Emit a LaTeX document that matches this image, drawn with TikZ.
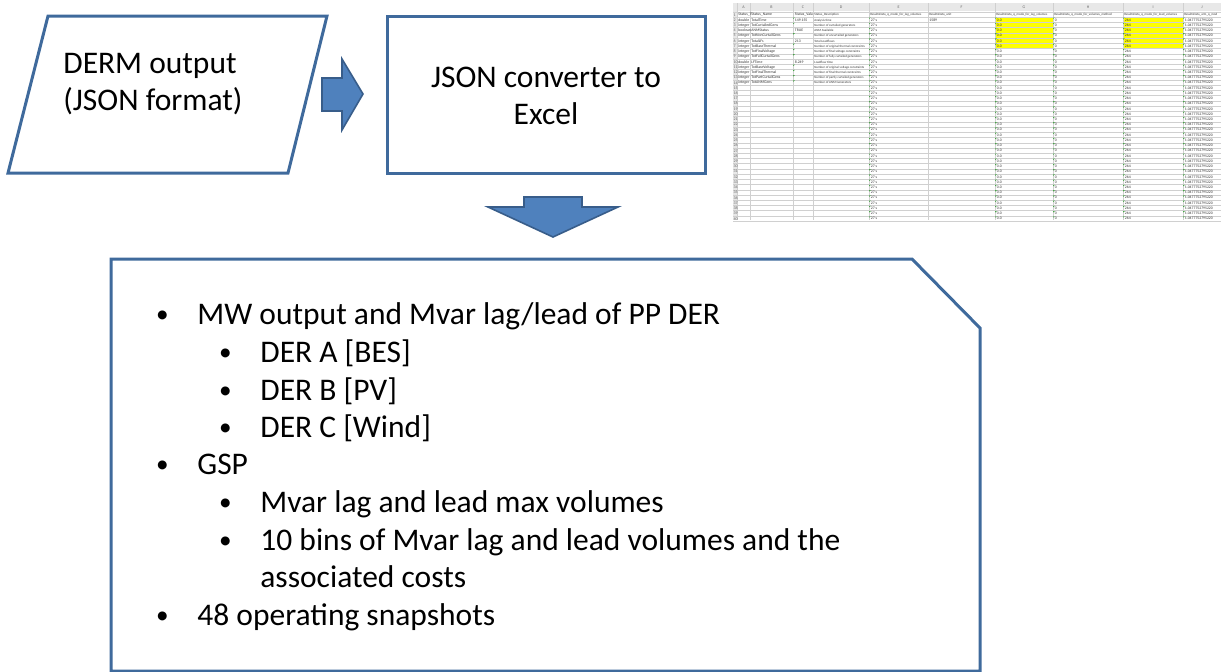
\documentclass[tikz,border=0pt]{standalone}
\usepackage{fontspec}
\setmainfont{Carlito}
\usetikzlibrary{positioning}

\definecolor{boxline}{HTML}{3F6A9C}
\definecolor{arrowfill}{HTML}{4F81BD}
\definecolor{arrowline}{HTML}{385D8A}
\definecolor{gridline}{HTML}{D0D0D0}
\definecolor{cellyellow}{HTML}{FFFF00}
\newcommand{\bul}{\makebox[21.5pt][l]{\hspace{0.8pt}\raisebox{0.6pt}{\scalebox{0.8}{•}}}}

\begin{document}
\begin{tikzpicture}[x=0.5pt, y=-0.5pt,
    shapeline/.style={draw=boxline, line width=1.5pt, fill=white},
    blockarrow/.style={draw=arrowline, line width=0.8pt, fill=arrowfill},
    bigtext/.style={font=\fontsize{15.75}{18.5}\selectfont, inner sep=0pt},
    item/.style={bigtext, anchor=base west},
    cell/.style={font=\fontsize{1.9}{2}\selectfont, inner sep=0pt, anchor=base west, text=black!80},
    smallcell/.style={cell, font=\fontsize{1.6}{2}\selectfont},
    head/.style={font=\fontsize{2}{2}\selectfont, inner sep=0pt, text=black!60},
    flag/.style={fill=green!55!black}]
\useasboundingbox (0,0) rectangle (1221,671);

% input and converter
\draw[shapeline] (48,16) -- (327,16) -- (288,173) -- (8,173) -- cycle;
\node[item] (derm) at (63,73) {DERM output};
\node[item] (json) at (63,110) {(JSON format)};
\draw[blockarrow] (322,78) -- (342,78) -- (342,59) -- (363,94) -- (342,130) -- (342,111) -- (322,111) -- cycle;
\draw[shapeline] (387,16) rectangle (705,173);
\node[bigtext, anchor=base] (conv) at (546,87) {JSON converter to};
\node[bigtext, anchor=base] (excel) at (546,124) {Excel};
\draw[blockarrow] (524,197) -- (582,197) -- (582,207) -- (618,207) -- (553,237) -- (488,207) -- (524,207) -- cycle;

% result list
\begin{scope}
\clip (0,0) rectangle (1221,671);
\draw[shapeline] (111,259) -- (912,259) -- (980,328) -- (980,671) -- (111,671) -- cycle;
\end{scope}
\node[item] (mw) at (154,324) {\bul MW output and Mvar lag/lead of PP DER};
\node[item] (dera) at (217,362) {\bul DER A [BES]};
\node[item] (derb) at (217,400) {\bul DER B [PV]};
\node[item] (derc) at (217,437) {\bul DER C [Wind]};
\node[item] (gsp) at (154,474) {\bul GSP};
\node[item] (maxv) at (217,512) {\bul Mvar lag and lead max volumes};
\node[item] (bins) at (217,550) {\bul 10 bins of Mvar lag and lead volumes and the};
\node[item] (costs) at (260,587) {associated costs};
\node[item] (snap) at (154,625) {\bul 48 operating snapshots};

% spreadsheet screenshot
\fill[white] (733,3) rectangle (1221,220);
\fill[black!9] (733,3) rectangle (1221,11);
\fill[black!9] (733,3) rectangle (737,220);
\fill[cellyellow] (995,17.23) rectangle (1053,48.6);
\fill[cellyellow] (1123,17.23) rectangle (1183,48.6);
\foreach \r in {0,...,40}
  \draw[gridline, line width=0.25pt] (733,{12+\r*5.23}) -- (1221,{12+\r*5.23});
\foreach \c in {737,750,793,813,869,928,995,1053,1123,1183}
  \draw[gridline, line width=0.3pt] (\c,3) -- (\c,220);
\foreach \c/\l in {743.5/A,771.5/B,803/C,841/D,898.5/E,961.5/F,1024/G,1088/H,1153/I,1202/J}
  \node[head] (col\l) at (\c,7) {\l};
\foreach \r in {1,...,40}
  \node[head, anchor=base west] (row\r) at (733.3,{12+\r*5.23-1.2}) {\r};

\foreach \r/\a/\b/\d in {1/Status\_T/Status\_Name/Status\_Description,
    2/double/TotalTime/Analysis time,
    3/integer/TotCurtailedGens/Number of curtailed generators,
    4/boolean/ANMStatus/ANM Available,
    5/integer/TotNonCurtailGens/Number of uncurtailed generators,
    6/integer/TotalLFs/Total Loadflows,
    7/integer/TotBaseThermal/Number of original thermal constraints,
    8/integer/TotFinalVoltage/Number of final voltage constraints,
    9/integer/TotFullCurtailGens/Number of fully curtailed generators,
    10/double/LFTime/Loadflow time,
    11/integer/TotBaseVoltage/Number of original voltage constraints,
    12/integer/TotFinalThermal/Number of final thermal constraints,
    13/integer/TotPartCurtailGens/Number of partly curtailed generators,
    14/integer/TotANMGens/Number of ANM Generators} {
  \node[cell] (a\r) at (738,{12+\r*5.23-1.3}) {\a};
  \node[cell] (b\r) at (751,{12+\r*5.23-1.3}) {\b};
  \node[smallcell] (d\r) at (814,{12+\r*5.23-1.3}) {\d};
}
\foreach \r/\v in {1/Status\_Valu,2/149.155,4/TRUE,6/213,10/8.249}
  \node[cell] (c\r) at (794.5,{12+\r*5.23-1.3}) {\v};
\foreach \r in {2,3,5,7,8,9,11,12,13,14}
  \fill[flag] (793.3,{12+(\r-1)*5.23+0.3}) -- ++(1.4,0) -- ++(-1.4,1.4) -- cycle;

\node[smallcell] (e1) at (870,15.9) {ResultsData\_q\_mode\_for\_lag\_volumes};
\node[smallcell] (f1) at (929,15.9) {ResultsData\_unit};
\node[smallcell] (g1) at (996,15.9) {ResultsData\_q\_mode\_for\_lag\_volumes};
\node[smallcell] (h1) at (1054,15.9) {ResultsData\_q\_mode\_for\_volumes\_method};
\node[smallcell] (i1) at (1124,15.9) {ResultsData\_q\_mode\_for\_lead\_volumes};
\node[smallcell] (j1) at (1184,15.9) {ResultsData\_arm\_q\_mod};
\node[cell] (f2) at (929,21.2) {1589};
\foreach \r in {2,...,40} {
  \node[cell] (e\r) at (870.5,{12+\r*5.23-1.3}) {27 s};
  \node[cell] (g\r) at (996.5,{12+\r*5.23-1.3}) {0.0};
  \node[cell] (h\r) at (1054.5,{12+\r*5.23-1.3}) {0};
  \node[cell] (i\r) at (1124.5,{12+\r*5.23-1.3}) {264};
  \node[cell] (j\r) at (1184.5,{12+\r*5.23-1.3}) {1.0477752795220};
  \foreach \c in {869,995,1053,1123,1183}
    \fill[flag] (\c+0.3,{12+(\r-1)*5.23+0.3}) -- ++(1.4,0) -- ++(-1.4,1.4) -- cycle;
}
\end{tikzpicture}
\end{document}
